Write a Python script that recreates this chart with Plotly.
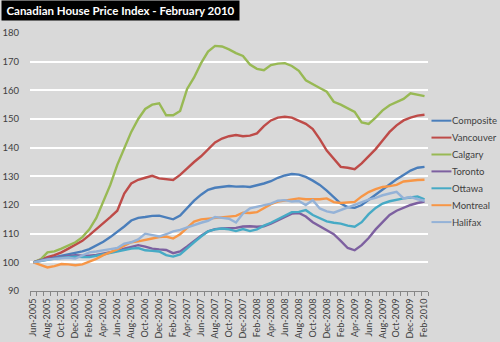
import plotly.graph_objects as go

months = ["Jun","Jul","Aug","Sep","Oct","Nov","Dec","Jan","Feb","Mar","Apr","May"]
# Monthly categories Jun-2005 .. Feb-2010
categories = []
y, m = 2005, 0
while True:
    categories.append(f"{months[m]}-{y}")
    if months[m] == "Feb" and y == 2010:
        break
    m += 1
    if months[m % 12] == "Jan" and m % 12 == 7:
        y += 1
    m %= 12

composite = [100, 100.8, 101.3, 101.8, 102.3, 102.8, 103.2, 103.8, 104.6, 105.8, 107.2, 108.8, 110.5, 112.5,
             114.6, 115.5, 115.8, 116.2, 116.3, 115.6, 115, 116.3, 119, 121.5, 123.6, 125.3, 126, 126.2, 126.6,
             126.4, 126.5, 126.3, 126.8, 127.5, 128.3, 129.5, 130.3, 130.8, 130.6, 129.8, 128.5, 127, 125, 122.8,
             120.5, 119.3, 119, 120, 121.8, 123.8, 125.5, 127.3, 129, 130.5, 132, 133, 133.3]
vancouver = [100, 101, 101.8, 102.5, 103.5, 104.8, 106.3, 107.5, 109.5, 111.5, 113.5, 115.8, 118, 124, 127.5,
             128.8, 129.5, 130.2, 129.3, 129, 128.7, 130.5, 132.8, 135, 137, 139.5, 141.8, 143.2, 144, 144.4, 144,
             144.2, 145, 147.5, 149.5, 150.5, 150.8, 150.5, 149.5, 148.3, 146.5, 143, 139, 136, 133.3, 133, 132.5,
             134.5, 137, 139.5, 142.5, 145.5, 147.8, 149.5, 150.5, 151.2, 151.5]
calgary = [100, 101, 103.5, 103.8, 104.8, 105.8, 107, 108.8, 111.5, 115.5, 121, 127, 134, 139.5, 145.5, 150,
           153.5, 155, 155.5, 151.3, 151.3, 152.8, 160.5, 164.5, 169.5, 173.5, 175.5, 175.3, 174.3, 173, 172,
           169, 167.5, 167, 168.8, 169.3, 169.5, 168.5, 166.8, 163.5, 162, 160.8, 159.5, 156, 155, 153.8, 152.5,
           148.8, 148.3, 150.5, 153, 154.8, 156, 157, 159, 158.5, 158]
toronto = [100, 100.8, 101.3, 101.6, 102, 102.3, 102.5, 102.3, 102.3, 102.6, 103, 103.5, 104, 104.8, 105.5, 106,
           105.5, 104.8, 104.5, 104.3, 103.2, 103.8, 105.5, 107.5, 109.3, 110.8, 111.6, 111.8, 111.8, 112, 112.5,
           112.6, 112.4, 112.6, 113.5, 114.7, 116, 117, 117.2, 116, 114, 112.5, 111.2, 109.8, 107.5, 105, 104.2,
           106, 108.5, 111.5, 114, 116.5, 118, 119, 120, 120.7, 121.2]
ottawa = [100, 100.5, 101, 101.3, 101.6, 101.8, 102, 101.8, 101.8, 102.3, 102.8, 103.3, 103.8, 104.3, 104.8, 105,
          104.2, 104, 103.8, 102.5, 102, 102.8, 105, 107, 109, 110.8, 111.5, 111.8, 111.5, 110.9, 111.6, 110.9,
          111.5, 112.8, 113.8, 115, 116.3, 117.5, 117.6, 118.2, 116.5, 115.5, 114.3, 113.8, 113.5, 112.8, 112.4,
          114, 116.8, 119, 120.5, 121.3, 121.9, 122.3, 122.6, 123, 122]
montreal = [100, 99, 98.2, 98.7, 99.4, 99.3, 99, 99.3, 100.2, 101.2, 102.5, 103.5, 104.5, 105.8, 107, 107.3,
            107.9, 108.3, 108.8, 109, 108.3, 109.8, 112, 114.2, 115, 115.2, 115.5, 115.8, 116, 116.2, 117.3,
            117.2, 117.5, 118.8, 120.3, 121.2, 121.6, 121.8, 122.3, 122, 121.9, 122, 122.3, 121, 120.7, 120.9,
            121.1, 123, 124.5, 125.5, 126.3, 126.6, 127, 128.2, 128.5, 128.7, 128.8]
halifax = [100, 100.5, 101, 101.2, 101.4, 101.6, 101.3, 102.5, 103.5, 103.8, 104.3, 104.6, 105, 106.5, 107, 108,
           110, 109.5, 109, 109.8, 110.8, 111.3, 112.2, 112.9, 113.8, 114.5, 115.8, 115.5, 115.2, 113.9, 117,
           118.8, 119.3, 119.8, 120.5, 121.5, 121.7, 121.2, 121.4, 120, 121.7, 118.8, 117.8, 117.3, 118.2, 119.3,
           120, 121, 121.9, 122.5, 123.4, 124, 124.6, 122.3, 122.8, 122, 121.5]

series_names = ["Composite", "Vancouver", "Calgary", "Toronto", "Ottawa", "Montreal", "Halifax"]
series_values = [composite, vancouver, calgary, toronto, ottawa, montreal, halifax]
colors = ["#4A7EBB", "#BE4B48", "#98B954", "#7D60A0", "#46AAC5", "#F79646", "#94B2D7"]

y_ticks = [90, 100, 110, 120, 130, 140, 150, 160, 170, 180]
title_text = "Canadian House Price Index - February 2010"

W, H = 500, 342
L, R, T, B = 29.5, 428.5, 33, 291
pw, ph = R - L, B - T

def px(xp):
    return (xp - L) / pw

def py(yp):
    return (B - yp) / ph

idx = list(range(len(categories)))
fig = go.Figure()
for name, vals, c in zip(series_names, series_values, colors):
    fig.add_trace(go.Scatter(x=idx, y=vals, mode="lines", name=name,
                             line=dict(color=c, width=2.4), showlegend=False))

font_family = "Lato, 'Open Sans', sans-serif"
fig.update_layout(
    width=W, height=H,
    margin=dict(l=L, r=W - R, t=T, b=H - B, pad=0),
    paper_bgcolor="#D9D9D9", plot_bgcolor="#D9D9D9",
    font=dict(family=font_family, size=9, color="#404040"),
    xaxis=dict(range=[-0.5, len(categories) - 0.5], tickmode="array",
               tickvals=idx[::2], ticktext=categories[::2], tickangle=-90,
               ticks="", showgrid=False, zeroline=False, automargin=False,
               showline=True, linecolor="#868686", linewidth=1,
               ticklabelstandoff=3,
               tickfont=dict(size=9, color="#404040"),
               minor=dict(ticks="outside", tick0=-0.5, dtick=1, ticklen=4,
                          tickcolor="#868686", showgrid=False)),
    yaxis=dict(range=[90, 180], tickvals=y_ticks, showgrid=True, gridcolor="#FFFFFF",
               gridwidth=1.6, zeroline=False, showline=False, ticks="", automargin=False,
               ticklabelstandoff=10, tickfont=dict(size=9.5, color="#404040")),
)

# title box
fig.add_annotation(xref="paper", yref="paper", x=px(0), y=py(0), xanchor="left", yanchor="top",
                   text=f"<b>{title_text}</b>", showarrow=False, bgcolor="#000000",
                   width=237, height=19, borderpad=0, align="center", valign="middle",
                   font=dict(family=font_family, size=11.5, color="#FFFFFF"))

# legend
leg_y0, leg_dy = 120.7, 16.9
for k, (name, c) in enumerate(zip(series_names, colors)):
    yy = leg_y0 + k * leg_dy
    fig.add_shape(type="line", xref="paper", yref="paper", x0=px(432), x1=px(452),
                  y0=py(yy), y1=py(yy), line=dict(color=c, width=2))
    fig.add_annotation(xref="paper", yref="paper", x=px(451), y=py(yy), xanchor="left",
                       yanchor="middle", text=name, showarrow=False,
                       font=dict(family=font_family, size=9.5, color="#404040"))

fig.write_html("out.html")
